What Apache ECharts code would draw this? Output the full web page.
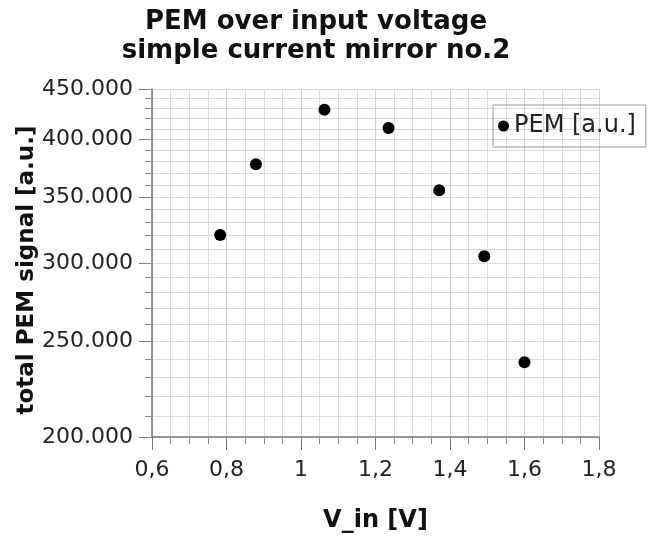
<!DOCTYPE html>
<html>
<head>
<meta charset="utf-8">
<script src="https://cdn.jsdelivr.net/npm/echarts@6/dist/echarts.min.js"></script>
<style>html,body{margin:0;padding:0;background:#fff}#c{width:654px;height:536px}</style>
</head>
<body>
<div id="c"></div>
<script>
var vin = [0.783, 0.879, 1.063, 1.235, 1.371, 1.492, 1.600];
var pem = [320300, 377700, 428700, 410800, 355500, 304700, 238100];
var yMajorTicks = [200000, 250000, 300000, 350000, 400000, 450000];
var yMinorTicks = [];
for (var v = 200000; v <= 450000; v += 10000) yMinorTicks.push(v);

var chart = echarts.init(document.getElementById('c'), null, {renderer: 'canvas'});
var font = 'DejaVu Sans';
chart.setOption({
  animation: false,
  backgroundColor: '#fff',
  title: {
    text: 'PEM over input voltage\nsimple current mirror no.2',
    left: 311, top: 3, textAlign: 'center',
    textStyle: {fontFamily: font, fontWeight: 'bold', fontSize: 26, lineHeight: 29, color: '#111'}
  },
  legend: {
    data: ['PEM [a.u.]'],
    left: 493, top: 105,
    padding: [9, 10, 9, 5],
    itemWidth: 11, itemHeight: 11, itemGap: 2,
    borderColor: '#999', borderWidth: 1,
    textStyle: {fontFamily: font, fontSize: 24, color: '#222', padding: [0, 0, 0, 0]}
  },
  grid: {left: 152, right: 55, top: 89, bottom: 99, containLabel: false, outerBoundsMode: 'none'},
  xAxis: {
    type: 'value', min: 0.6, max: 1.8, interval: 0.2,
    name: 'V_in [V]', nameLocation: 'middle', nameGap: 72, nameMoveOverlap: false,
    nameTextStyle: {fontFamily: font, fontWeight: 'bold', fontSize: 24, color: '#111'},
    axisLine: {show: true, lineStyle: {color: '#777', width: 1.5}},
    axisTick: {show: true, inside: false, length: 13, lineStyle: {color: '#777'}},
    minorTick: {show: true, splitNumber: 4, length: 7, lineStyle: {color: '#888'}},
    splitLine: {show: true, lineStyle: {color: '#cfcfcf'}},
    minorSplitLine: {show: true, lineStyle: {color: '#dcdcdc'}},
    axisLabel: {fontFamily: font, fontSize: 22, color: '#222', margin: 22,
      formatter: function (v) { return String(+v.toFixed(1)).replace('.', ','); }}
  },
  yAxis: [{
    type: 'log', min: 200000, max: 450000, position: 'left',
    name: 'total PEM signal [a.u.]', nameLocation: 'middle', nameGap: 113, nameMoveOverlap: false,
    nameTextStyle: {fontFamily: font, fontWeight: 'bold', fontSize: 23, color: '#111', padding: [0, 14, 0, 0]},
    axisLine: {show: true, lineStyle: {color: '#777', width: 1.5}},
    axisTick: {show: true, length: 13, customValues: yMajorTicks, lineStyle: {color: '#777'}},
    splitLine: {show: true, lineStyle: {color: '#cfcfcf'}},
    axisLabel: {fontFamily: font, fontSize: 22, color: '#222', margin: 19, customValues: yMajorTicks,
      formatter: function (v) { return (Math.round(v / 1000)) + '.000'; }}
  }, {
    type: 'log', min: 200000, max: 450000, position: 'left',
    axisLine: {show: false},
    axisTick: {show: true, length: 7, customValues: yMinorTicks, lineStyle: {color: '#888'}},
    splitLine: {show: true, lineStyle: {color: '#dcdcdc'}},
    axisLabel: {show: false, customValues: yMinorTicks}
  }],
  series: [{
    name: 'PEM [a.u.]', type: 'scatter', yAxisIndex: 0,
    symbol: 'circle', symbolSize: 12,
    itemStyle: {color: '#000', opacity: 1},
    data: vin.map(function (x, i) { return [x, pem[i]]; })
  }]
});
</script>
</body>
</html>
